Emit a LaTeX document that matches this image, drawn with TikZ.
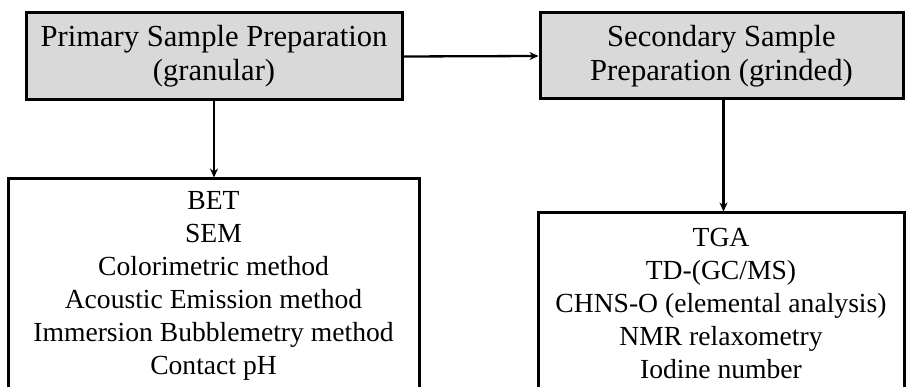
\documentclass[tikz,border=0pt]{standalone}
\usepackage{fontspec}
\setmainfont{Liberation Serif}
\usetikzlibrary{arrows.meta}
\definecolor{boxgray}{HTML}{D9D9D9}
\tikzset{
  box/.style={draw=black, line width=3pt, align=center, inner sep=0pt},
  headbox/.style={box, fill=boxgray, font=\fontsize{30.6}{34}\selectfont},
  listbox/.style={box, fill=white, font=\fontsize{27.6}{33}\selectfont},
  link/.style={line width=2.3pt, -{Stealth[length=9pt,width=8pt]}}
}
\begin{document}
\begin{tikzpicture}[x=1pt,y=-1pt]
  \useasboundingbox (0,0) rectangle (906,387);
  \clip (0,0) rectangle (906,387);
  \fill[white] (0,0) rectangle (906,387);
  % sample preparation steps
  \node[headbox, minimum width=376pt, minimum height=87pt] (prim) at (214,56.5)
    {Primary Sample Preparation\\(granular)};
  \node[headbox, minimum width=363pt, minimum height=86pt] (sec) at (721.5,56)
    {Secondary Sample\\Preparation (grinded)};
  % analysis methods
  \node[listbox, minimum width=411pt, minimum height=214pt] (prima) at (213.5,286)
    {BET\\SEM\\Colorimetric method\\Acoustic Emission method\\Immersion Bubblemetry method\\Contact pH};
  \node[listbox, minimum width=366pt, minimum height=180pt] (seca) at (721,303)
    {TGA\\TD-(GC/MS)\\CHNS-O (elemental analysis)\\NMR relaxometry\\Iodine number};
  % connectors
  \draw[link] (prim.east) -- (sec.west);
  \draw[link] (prim.south) -- (prim.south |- prima.north);
  \draw[link] ([xshift=2pt]sec.south) -- ([xshift=2pt]sec.south |- seca.north);
\end{tikzpicture}
\end{document}
